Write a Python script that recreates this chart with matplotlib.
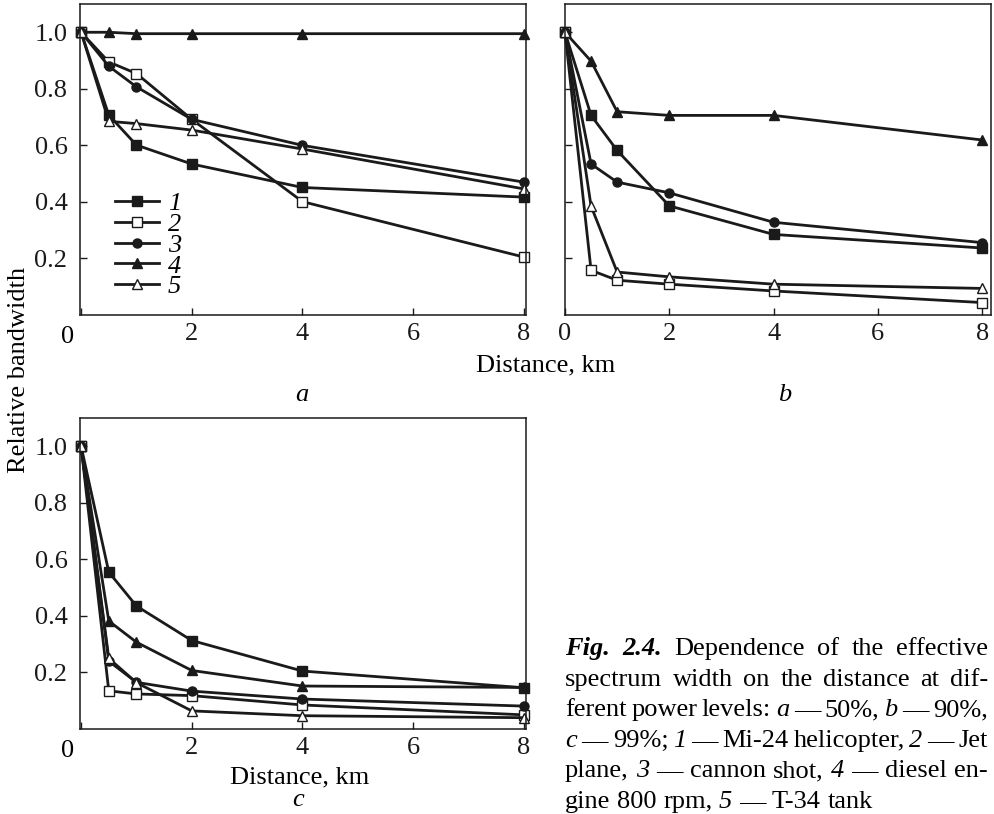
import matplotlib
matplotlib.use("Agg")
import matplotlib.pyplot as plt
from matplotlib.lines import Line2D

plt.rcParams["font.family"] = ["Liberation Serif", "DejaVu Serif"]
plt.rcParams["font.size"] = 19

# distances, km
dist = [0, 0.5, 1, 2, 4, 8]

# panel a (50 %)
a1 = [1.0, 0.707, 0.601, 0.534, 0.451, 0.417]
a2 = [1.0, 0.895, 0.854, 0.692, 0.401, 0.205]
a3 = [1.0, 0.880, 0.807, 0.692, 0.600, 0.470]
a4 = [1.0, 1.0, 0.995, 0.995, 0.995, 0.995]
a5 = [1.0, 0.685, 0.677, 0.654, 0.587, 0.446]

# panel b (90 %)
b1 = [1.0, 0.706, 0.582, 0.386, 0.285, 0.237]
b2 = [1.0, 0.158, 0.123, 0.109, 0.085, 0.044]
b3 = [1.0, 0.534, 0.470, 0.432, 0.328, 0.256]
b4 = [1.0, 0.898, 0.719, 0.706, 0.706, 0.619]
b5 = [1.0, 0.385, 0.152, 0.135, 0.109, 0.094]

# panel c (99 %)
c1 = [1.0, 0.555, 0.435, 0.313, 0.205, 0.146]
c2 = [1.0, 0.135, 0.124, 0.118, 0.085, 0.050]
c3 = [1.0, 0.240, 0.165, 0.134, 0.106, 0.081]
c4 = [1.0, 0.382, 0.307, 0.207, 0.152, 0.147]
c5 = [1.0, 0.250, 0.164, 0.064, 0.047, 0.040]

series_labels = ["1", "2", "3", "4", "5"]
yticks = [0.2, 0.4, 0.6, 0.8, 1.0]
xticks = [0, 2, 4, 6, 8]

ink = "#1a1a1a"
styles = [
    dict(marker="s", mfc=ink),
    dict(marker="s", mfc="white"),
    dict(marker="o", mfc=ink),
    dict(marker="^", mfc=ink),
    dict(marker="^", mfc="white"),
]

W, H = 995, 814
fig = plt.figure(figsize=(W / 100, H / 100), dpi=100)


def px_box(left, top, right, bottom):
    return [left / W, 1 - bottom / H, (right - left) / W, (bottom - top) / H]


ax_a = fig.add_axes(px_box(80, 4, 526, 315))
ax_b = fig.add_axes(px_box(565, 4, 991, 315))
ax_c = fig.add_axes(px_box(80, 418, 526, 729))

panels = [
    (ax_a, [a1, a2, a3, a4, a5], (-0.02, 8.04), True),
    (ax_b, [b1, b2, b3, b4, b5], (0, 8.17), False),
    (ax_c, [c1, c2, c3, c4, c5], (-0.02, 8.04), True),
]

for ax, data, xlim, ylabels in panels:
    for vals, st in zip(data, styles):
        ax.plot(dist, vals, color=ink, lw=2.0, marker=st["marker"],
                mfc=st["mfc"], mec=ink, mew=1.0, ms=7.5 if st["marker"] == "^" else 6.5,
                clip_on=False)
    ax.set_xlim(*xlim)
    ax.set_ylim(0, 1.1)
    ax.set_xticks(xticks)
    ax.set_yticks(yticks)
    ax.tick_params(direction="in", length=5, width=1, colors=ink, pad=6)
    ax.tick_params(axis="y", pad=9)
    if ylabels:
        ax.set_yticklabels(["0.2", "0.4", "0.6", "0.8", "1.0"])
        ax.set_xticklabels(["", "2", "4", "6", "8"])
        ax.annotate("0", xy=(0, 0), xycoords="data", xytext=(-10, -8),
                    textcoords="offset points", ha="center", va="top")
    else:
        ax.set_yticklabels([])
    for sp in ax.spines.values():
        sp.set_linewidth(1.1)
        sp.set_color(ink)

# legend in panel a
handles = [Line2D([], [], color=ink, lw=2.0, marker=st["marker"], mfc=st["mfc"],
                  mec=ink, mew=1.0, ms=7.5 if st["marker"] == "^" else 6.5)
           for st in styles]
ax_a.legend(handles, series_labels, loc="center left",
            bbox_to_anchor=((115 - 80) / 446, (315 - 245) / 311),
            frameon=False, handlelength=1.65, handletextpad=0.35,
            labelspacing=-0.1, borderpad=0, borderaxespad=0,
            prop={"style": "italic", "size": 19})

# axis titles and panel letters
fig.text(19 / W, 1 - 370 / H, "Relative bandwidth", rotation=90,
         ha="center", va="center")
fig.text(546 / W, 1 - 365 / H, "Distance, km", ha="center", va="center")
fig.text(300 / W, 1 - 777 / H, "Distance, km", ha="center", va="center")
fig.text(302 / W, 1 - 395 / H, "a", style="italic", ha="center", va="center")
fig.text(785 / W, 1 - 395 / H, "b", style="italic", ha="center", va="center")
fig.text(298 / W, 1 - 800 / H, "c", style="italic", ha="center", va="center")

# caption, justified between x = 565 and 988 px
caption = [
    [("Fig.", "bi"), ("2.4.", "bi"), ("Dependence", "r"), ("of", "r"),
     ("the", "r"), ("effective", "r")],
    [("spectrum", "r"), ("width", "r"), ("on", "r"), ("the", "r"),
     ("distance", "r"), ("at", "r"), ("dif-", "r")],
    [("ferent", "r"), ("power", "r"), ("levels:", "r"), ("a", "i"), ("\u2014", "r"),
     ("50%,", "r"), ("b", "i"), ("\u2014", "r"), ("90%,", "r")],
    [("c", "i"), ("\u2014", "r"), ("99%;", "r"), ("1", "i"), ("\u2014", "r"),
     ("Mi-24", "r"), ("helicopter,", "r"), ("2", "i"), ("\u2014", "r"), ("Jet", "r")],
    [("plane,", "r"), ("3", "i"), ("\u2014", "r"), ("cannon", "r"), ("shot,", "r"),
     ("4", "i"), ("\u2014", "r"), ("diesel", "r"), ("en-", "r")],
    [("gine", "r"), ("800", "r"), ("rpm,", "r"), ("5", "i"), ("\u2014", "r"),
     ("T-34", "r"), ("tank", "r")],
]
cap_left, cap_right = 565, 988
base0, step = 655, 30.6
renderer = fig.canvas.get_renderer()
space = 0.25 * 19 * 100 / 72

for i, line in enumerate(caption):
    y = 1 - (base0 + i * step) / H
    items = []
    for word, st in line:
        t = fig.text(0, y, word, va="baseline", ha="left",
                     style="italic" if "i" in st else "normal",
                     weight="bold" if "b" in st else "normal")
        items.append((t, t.get_window_extent(renderer).width))
    total = sum(w for _, w in items)
    if i < len(caption) - 1:
        gap = (cap_right - cap_left - total) / (len(items) - 1)
    else:
        gap = space
    x = cap_left
    for t, w in items:
        t.set_x(x / W)
        x += w + gap

fig.savefig("out.png", dpi=100)
